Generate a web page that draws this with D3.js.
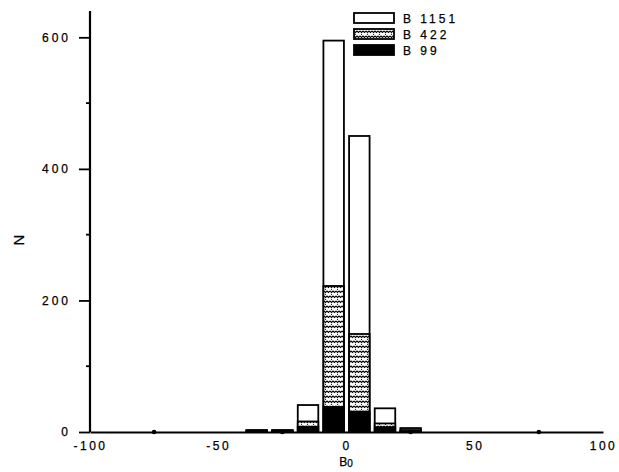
<!DOCTYPE html>
<html><head><meta charset="utf-8">
<script src="https://cdn.jsdelivr.net/npm/d3@7/dist/d3.min.js"></script>
<style>body{margin:0;background:#fff}svg{display:block}text{font-family:"Liberation Sans",Arial,sans-serif;fill:#000;stroke:#000;stroke-width:0.25px}</style>
</head><body><svg id="c" width="619" height="472"></svg>
<script>
const binCenters = [-35, -25, -15, -5, 5, 15, 25];
const b1151 = [3, 3, 41, 595, 450, 36, 6];
const b422  = [2, 2, 16, 222, 149, 13, 3];
const b99   = [2, 2, 8, 38, 31, 7, 1];
const seriesNames = ["B 1151", "B 422", "B 99"];
const xTicks = [-100, -50, 0, 50, 100];
const xMinor = [-75, -25, 25, 75];
const yTicks = [0, 200, 400, 600];
const yMinor = [100, 300, 500];
const binHalf = 4;

const svg = d3.select("#c");
const x = d3.scaleLinear().domain([-100, 100]).range([90, 603]);
const y = d3.scaleLinear().domain([0, 640]).range([432, 11]);

const defs = svg.append("defs");
const pat = defs.append("pattern").attr("id","stip").attr("patternUnits","userSpaceOnUse")
  .attr("width",6).attr("height",5);
pat.append("rect").attr("width",6).attr("height",5).attr("fill","#fff");
pat.append("path").attr("d","M0,1 L1.5,2.5 L3,1 L4.5,2.5 L6,1").attr("stroke","#000").attr("stroke-width",1.1).attr("fill","none");
pat.append("circle").attr("cx",1.5).attr("cy",4.3).attr("r",0.6).attr("fill","#000");

const series = [
  {name: seriesNames[0], vals: b1151, fill: "#fff"},
  {name: seriesNames[1], vals: b422, fill: "url(#stip)"},
  {name: seriesNames[2], vals: b99, fill: "#000"}
];

const g = svg.append("g");
series.forEach(s => {
  g.selectAll(null).data(binCenters.map((c,i)=>({c, v:s.vals[i]}))).enter().append("rect")
    .attr("x", d => x(d.c - binHalf))
    .attr("width", d => x(d.c + binHalf) - x(d.c - binHalf))
    .attr("y", d => y(d.v))
    .attr("height", d => y(0) - y(d.v))
    .attr("fill", s.fill)
    .attr("stroke", "#000").attr("stroke-width", 1.8);
});

const xAxis = svg.append("g").attr("transform","translate(0,432)")
  .call(d3.axisBottom(x).tickValues(xTicks).tickSize(0).tickPadding(9).tickFormat(d => d));
xAxis.select(".domain").attr("stroke","#000").attr("stroke-width",2);
xAxis.selectAll("text").attr("font-size",12).style("letter-spacing","2.5px");
svg.append("g").selectAll("circle").data(xMinor).enter().append("circle")
  .attr("cx", d => x(d)).attr("cy", 432).attr("r", 2.3).attr("fill","#000");

const yAxis = svg.append("g").attr("transform","translate(90,0)")
  .call(d3.axisLeft(y).tickValues(yTicks).tickSize(11).tickPadding(8).tickFormat(d => d));
yAxis.select(".domain").attr("stroke","#000").attr("stroke-width",2.2).attr("d", `M0,${y(640)}V${y(0)}`);
yAxis.selectAll(".tick line").attr("stroke-width",1.8);
yAxis.selectAll("text").attr("font-size",12).style("letter-spacing","3px");
svg.append("g").selectAll("line").data(yMinor).enter().append("line")
  .attr("x1",86).attr("x2",90).attr("y1",d=>y(d)).attr("y2",d=>y(d))
  .attr("stroke","#000").attr("stroke-width",1.8);

svg.append("text").attr("transform","translate(24,240) rotate(-90)")
  .attr("text-anchor","middle").attr("font-size",15).text("N");
const xt = svg.append("text").attr("x",346).attr("y",466).attr("text-anchor","middle").attr("font-size",12);
xt.append("tspan").text("B");
xt.append("tspan").attr("font-size",10).attr("dy",1).text("0");

const lg = svg.append("g");
series.forEach((s,i) => {
  const yy = 13 + i*16;
  lg.append("rect").attr("x",354).attr("y",yy).attr("width",40).attr("height",10)
    .attr("fill", s.fill).attr("stroke","#000").attr("stroke-width",1.8);
  lg.append("text").attr("x",403).attr("y",yy+10).attr("font-size",12)
    .style("letter-spacing","3px").text(s.name);
});
</script></body></html>
